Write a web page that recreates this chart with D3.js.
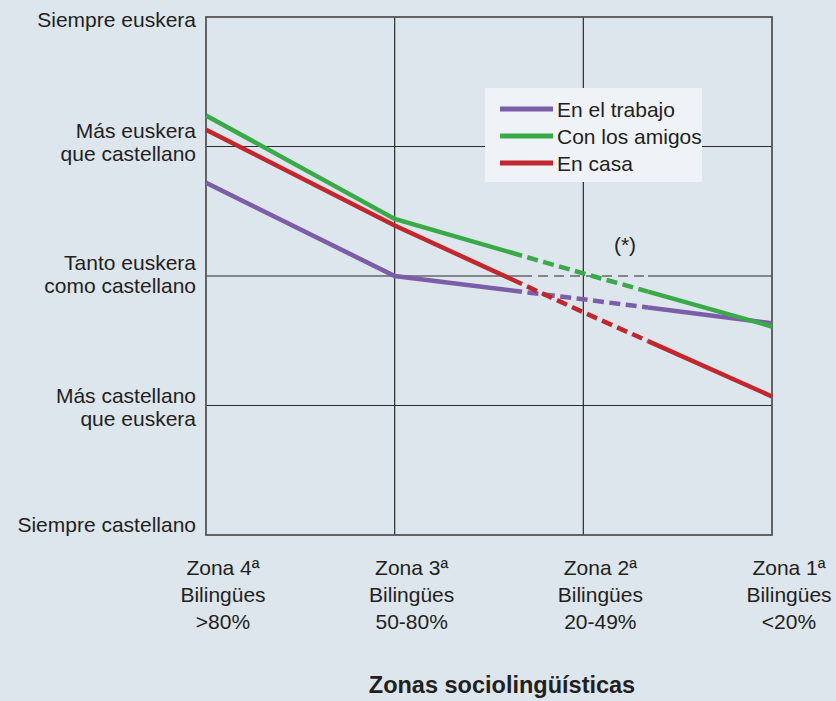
<!DOCTYPE html>
<html>
<head>
<meta charset="utf-8">
<script src="https://cdn.jsdelivr.net/npm/d3@7"></script>
<style>
  body { margin: 0; background: #dde5ed; }
  svg { display: block; font-family: "Liberation Sans", Arial, sans-serif; }
</style>
</head>
<body>
<div id="chart"></div>
<script>
// zones (x categories), from left to right
const zones = ["Zona 4ª", "Zona 3ª", "Zona 2ª", "Zona 1ª"];
const zoneShares = [">80%", "50-80%", "20-49%", "<20%"];
// scale of language use, 0 = siempre castellano ... 4 = siempre euskera
const levelLabels = [
    ["Siempre castellano"],
    ["Más castellano", "que euskera"],
    ["Tanto euskera", "como castellano"],
    ["Más euskera", "que castellano"],
    ["Siempre euskera"]
];
// series values per zone
const trabajo = [2.72, 2.0, 1.82, 1.635];
const amigos  = [3.24, 2.44, 2.02, 1.61];
const casa    = [3.13, 2.39, 1.72, 1.07];
const seriesNames = ["En el trabajo", "Con los amigos", "En casa"];
const seriesColors = ["#7b5da8", "#3aaa49", "#c1272d"];
// uncertain stretch around zona 2 (in zone index units)
const dashedFrom = 1.675, dashedTo = 2.343;

const width = 836, height = 701;
const margin = {top: 17, right: 64, bottom: 166, left: 206};

const svg = d3.select('#chart')
    .append('svg')
    .attr('width', width)
    .attr('height', height)
    .style('background-color', '#dde5ed');

const x = d3.scaleLinear()
    .domain([0, zones.length - 1])
    .range([margin.left, width - margin.right]);
const y = d3.scaleLinear()
    .domain([0, 4])
    .range([height - margin.bottom, margin.top]);

const textColor = '#231f20';

// horizontal gridlines (level 2 is dashed around zona 2)
const grid = svg.append('g');
[1, 2, 3].forEach(v => {
    if (v === 2) {
        const parts = [[0, dashedFrom, null], [dashedFrom, dashedTo, '10,6'], [dashedTo, 3, null]];
        parts.forEach(p => {
            grid.append('line')
                .attr('x1', x(p[0])).attr('x2', x(p[1]))
                .attr('y1', y(v)).attr('y2', y(v))
                .attr('stroke', '#2b2b2b')
                .attr('stroke-width', 1.2)
                .attr('stroke-dasharray', p[2]);
        });
    } else {
        grid.append('line')
            .attr('x1', x(0)).attr('x2', x(3))
            .attr('y1', y(v)).attr('y2', y(v))
            .attr('stroke', '#2b2b2b')
            .attr('stroke-width', 1.2);
    }
});
// vertical gridlines
[1, 2].forEach(i => {
    grid.append('line')
        .attr('x1', x(i)).attr('x2', x(i))
        .attr('y1', y(4)).attr('y2', y(0))
        .attr('stroke', '#2b2b2b')
        .attr('stroke-width', 1.2);
});
// frame
svg.append('rect')
    .attr('x', x(0)).attr('y', y(4))
    .attr('width', x(3) - x(0))
    .attr('height', y(0) - y(4))
    .attr('fill', 'none')
    .attr('stroke', '#555')
    .attr('stroke-width', 1.8);

// y labels (vertical nudge of each block, px)
const labelNudge = [-10, 2, -1.5, -4.5, 3];
const lineH = 23;
levelLabels.forEach((lines, lvl) => {
    const cy = y(lvl) + labelNudge[lvl];
    const t = svg.append('text')
        .attr('text-anchor', 'end')
        .attr('font-size', 21)
        .attr('fill', textColor);
    lines.forEach((s, k) => {
        t.append('tspan')
            .attr('x', margin.left - 10)
            .attr('y', cy + (k - (lines.length - 1) / 2) * lineH)
            .attr('dy', '0.35em')
            .text(s);
    });
});

// x labels
zones.forEach((z, i) => {
    const t = svg.append('text')
        .attr('text-anchor', 'middle')
        .attr('font-size', 21)
        .attr('fill', textColor);
    [z, 'Bilingües', zoneShares[i]].forEach((s, k) => {
        t.append('tspan')
            .attr('x', x(i) + 17)
            .attr('y', y(0) + 33 + k * 27)
            .attr('dy', '0.35em')
            .text(s);
    });
});

// axis title
svg.append('text')
    .attr('x', 502)
    .attr('y', 685)
    .attr('dy', '0.35em')
    .attr('text-anchor', 'middle')
    .attr('font-size', 23.5)
    .attr('font-weight', 'bold')
    .attr('fill', textColor)
    .text('Zonas sociolingüísticas');

// lines: solid / dashed / solid pieces
const interp = (vals, t) => {
    const i = Math.min(Math.floor(t), vals.length - 2);
    return vals[i] + (vals[i + 1] - vals[i]) * (t - i);
};
const line = d3.line().x(d => x(d[0])).y(d => y(d[1]));
const allSeries = [trabajo, amigos, casa];
const lineG = svg.append('g');
allSeries.forEach((vals, s) => {
    const pts = vals.map((v, i) => [i, v]);
    const a = [dashedFrom, interp(vals, dashedFrom)];
    const b = [dashedTo, interp(vals, dashedTo)];
    const pieces = [
        {d: pts.filter(p => p[0] < dashedFrom).concat([a]), dash: null},
        {d: [a].concat(pts.filter(p => p[0] > dashedFrom && p[0] < dashedTo)).concat([b]), dash: '11,5.5'},
        {d: [b].concat(pts.filter(p => p[0] > dashedTo)), dash: null}
    ];
    pieces.forEach(p => {
        lineG.append('path')
            .attr('d', line(p.d))
            .attr('fill', 'none')
            .attr('stroke', seriesColors[s])
            .attr('stroke-width', 4.5)
            .attr('stroke-dasharray', p.dash)
            .attr('stroke-dashoffset', p.dash ? 11 : null);
    });
});
// redraw the dashed stretch order so green sits on top like the original
lineG.selectAll('path').filter((d, i) => Math.floor(i / 3) === 1).raise();

// (*) note
svg.append('text')
    .attr('x', 625)
    .attr('y', 245)
    .attr('dy', '0.35em')
    .attr('text-anchor', 'middle')
    .attr('font-size', 21)
    .attr('fill', textColor)
    .text('(*)');

// legend
const legend = svg.append('g').attr('transform', 'translate(485,88)');
legend.append('rect')
    .attr('width', 217)
    .attr('height', 94)
    .attr('fill', '#eff3f7');
seriesNames.forEach((n, i) => {
    legend.append('line')
        .attr('x1', 15).attr('x2', 68)
        .attr('y1', 21 + i * 27).attr('y2', 21 + i * 27)
        .attr('stroke', seriesColors[i])
        .attr('stroke-width', 5);
    legend.append('text')
        .attr('x', 72)
        .attr('y', 22 + i * 27)
        .attr('dy', '0.35em')
        .attr('font-size', 21)
        .attr('fill', textColor)
        .text(n);
});
</script>
</body>
</html>
